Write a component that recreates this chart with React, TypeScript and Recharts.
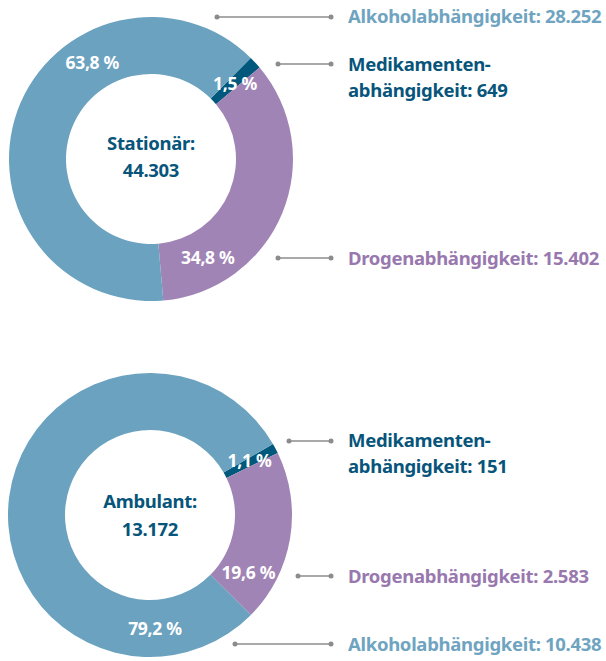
import { PieChart, Pie, Cell } from 'recharts';

// slices in clockwise order, starting at the small "Medikamente" wedge
const categories = ['Medikamentenabhängigkeit', 'Drogenabhängigkeit', 'Alkoholabhängigkeit'];
const stationaerValues = [649, 15402, 28252];
const ambulantValues = [151, 2583, 10438];
const stationaerTotal = '44.303';
const ambulantTotal = '13.172';

const COLORS = ['#00587c', '#a184b6', '#6aa2bf'];
const FONT = "'Noto Sans', sans-serif";
const DARK = '#07557a';

const TOP = { cx: 151, cy: 159 };
const BOTTOM = { cx: 150, cy: 515 };

// where along each wedge the percentage sits (0 = start, 1 = end)
const topLabelPos = [0.6, 0.8, 0.67];
const bottomLabelPos = [0.3, 0.79, 0.15];

const fmtPct = (v: number, total: number) => (v / total * 100).toFixed(1).replace('.', ',') + ' %';

const makeLabel = (values: number[], pos: number[]) => (props: any) => {
  const { cx, cy, innerRadius, outerRadius, startAngle, endAngle, index } = props;
  const total = values.reduce((a, b) => a + b, 0);
  const angle = startAngle + (endAngle - startAngle) * pos[index];
  const r = (innerRadius + outerRadius) / 2;
  const rad = (-angle * Math.PI) / 180;
  const x = cx + r * Math.cos(rad);
  const y = cy + r * Math.sin(rad);
  return (
    <text x={x} y={y} fill="#fff" textAnchor="middle" dominantBaseline="central"
      fontFamily={FONT} fontWeight={700} fontSize={17.5} letterSpacing={-0.3}>
      {fmtPct(values[index], total)}
    </text>
  );
};

const Leader = ({ x1, x2, y }: { x1: number; x2: number; y: number }) => (
  <g>
    <line x1={x1} x2={x2} y1={y} y2={y} stroke="#8c8c8c" strokeWidth={1.5} />
    <circle cx={x1} cy={y} r={2.5} fill="#8c8c8c" />
    <circle cx={x2} cy={y} r={2.5} fill="#8c8c8c" />
  </g>
);

export default function App() {
  const top = categories.map((name, i) => ({ name, value: stationaerValues[i] }));
  const bottom = categories.map((name, i) => ({ name, value: ambulantValues[i] }));
  const txt = { fontFamily: FONT, fontWeight: 700, fontSize: 18.5, letterSpacing: -0.3 } as const;

  return (
    <div style={{ position: 'absolute', left: 0, top: 0, width: 606, height: 661, background: '#fff' }}>
      <PieChart width={606} height={661} margin={{ top: 0, right: 0, bottom: 0, left: 0 }}>
        <Pie data={top} dataKey="value" cx={TOP.cx} cy={TOP.cy} innerRadius={85} outerRadius={142}
          startAngle={45.4} endAngle={-314.6} stroke="none" labelLine={false}
          label={makeLabel(stationaerValues, topLabelPos)} isAnimationActive={false}>
          {top.map((_, i) => <Cell key={i} fill={COLORS[i]} />)}
        </Pie>
        <Pie data={bottom} dataKey="value" cx={BOTTOM.cx} cy={BOTTOM.cy} innerRadius={85} outerRadius={142}
          startAngle={30} endAngle={-330} stroke="none" labelLine={false}
          label={makeLabel(ambulantValues, bottomLabelPos)} isAnimationActive={false}>
          {bottom.map((_, i) => <Cell key={i} fill={COLORS[i]} />)}
        </Pie>
      </PieChart>
      <svg width={606} height={661} style={{ position: 'absolute', left: 0, top: 0, pointerEvents: 'none' }}>
        <Leader x1={217} x2={331} y={17} />
        <Leader x1={278} x2={331} y={64} />
        <Leader x1={278} x2={331} y={258} />
        <Leader x1={289} x2={331} y={441} />
        <Leader x1={298} x2={331} y={576} />
        <Leader x1={235} x2={331} y={644} />
        <g {...txt} fill={DARK} textAnchor="middle">
          <text x={TOP.cx} y={TOP.cy - 9}>Stationär:</text>
          <text x={TOP.cx} y={TOP.cy + 18}>{stationaerTotal}</text>
          <text x={BOTTOM.cx} y={BOTTOM.cy - 7}>Ambulant:</text>
          <text x={BOTTOM.cx} y={BOTTOM.cy + 21}>{ambulantTotal}</text>
        </g>
        <g {...txt}>
          <text x={348} y={23} fill="#6fa4c1">Alkoholabhängigkeit: 28.252</text>
          <text x={348} y={71} fill={DARK}>Medikamenten-</text>
          <text x={348} y={97} fill={DARK}>abhängigkeit: 649</text>
          <text x={348} y={265} fill="#9878ae">Drogenabhängigkeit: 15.402</text>
          <text x={348} y={447} fill={DARK}>Medikamenten-</text>
          <text x={348} y={473} fill={DARK}>abhängigkeit: 151</text>
          <text x={348} y={583} fill="#9878ae">Drogenabhängigkeit: 2.583</text>
          <text x={348} y={651} fill="#6fa4c1">Alkoholabhängigkeit: 10.438</text>
        </g>
      </svg>
    </div>
  );
}
